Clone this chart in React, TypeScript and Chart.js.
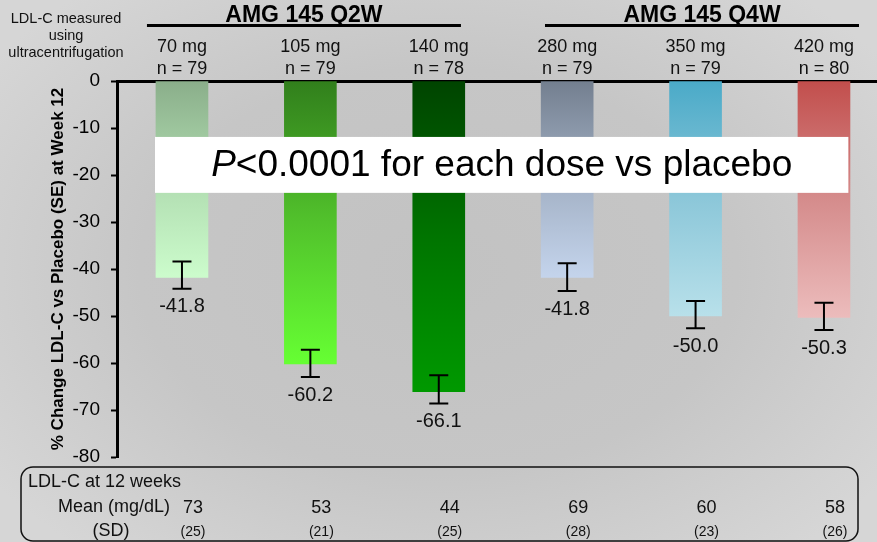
import React, { useEffect, useRef } from 'react';
import { Chart, registerables } from 'chart.js';

Chart.register(...registerables);

// ---- data ----
const doses = ['70 mg', '105 mg', '140 mg', '280 mg', '350 mg', '420 mg'];
const nCounts = ['n = 79', 'n = 79', 'n = 78', 'n = 79', 'n = 79', 'n = 80'];
const changeVsPlacebo = [-41.8, -60.2, -66.1, -41.8, -50.0, -50.3];
const seUpper = [-38.4, -57.2, -62.6, -38.8, -46.8, -47.2];
const seLower = [-44.2, -63.0, -68.6, -44.7, -52.6, -53.0];
const valueLabels = ['-41.8', '-60.2', '-66.1', '-41.8', '-50.0', '-50.3'];
const meanLdl = ['73', '53', '44', '69', '60', '58'];
const sdLdl = ['(25)', '(21)', '(25)', '(28)', '(23)', '(26)'];
const yTicks = [0, -10, -20, -30, -40, -50, -60, -70, -80];
const groupLabels = ['AMG 145 Q2W', 'AMG 145 Q4W'];
const groupCenters = [0.95, 4.05];
const noteLines = ['LDL-C measured', 'using', 'ultracentrifugation'];
const pText = ['P', '<0.0001 for each dose vs placebo'];

// ---- styles ----
const barTop = ['#8aae8a', '#317f1c', '#004400', '#737f8f', '#4aaac8', '#c24e4c'];
const barMid = ['#b0dcb0', '#52c22c', '#007400', '#a2b0c4', '#8cc7d9', '#d58c8c'];
const barBottom = ['#ccfccc', '#66ff33', '#009900', '#c4d4ec', '#b8e0ea', '#ecbcbc'];
const FONT = '"Liberation Sans", Arial, Helvetica, sans-serif';

function txt(
  ctx: CanvasRenderingContext2D,
  s: string,
  x: number,
  y: number,
  font: string,
  align: CanvasTextAlign = 'center',
  baseline: CanvasTextBaseline = 'middle',
  color = '#000'
) {
  ctx.font = font;
  ctx.textAlign = align;
  ctx.textBaseline = baseline;
  ctx.fillStyle = color;
  ctx.fillText(s, x, y);
}

const decorations = {
  id: 'decorations',
  afterDatasetsDraw(chart: any) {
    const { ctx, scales } = chart;
    const x = scales.x;
    const y = scales.y;
    ctx.save();

    // white annotation box
    const bx1 = x.getPixelForValue(-0.21);
    const bx2 = x.getPixelForValue(5.19);
    const by1 = y.getPixelForValue(-11.9);
    const by2 = y.getPixelForValue(-23.8);
    ctx.fillStyle = '#ffffff';
    ctx.fillRect(bx1, by1, bx2 - bx1, by2 - by1);
    const pf = `italic 37px ${FONT}`;
    const rf = `37px ${FONT}`;
    ctx.font = pf;
    const wP = ctx.measureText(pText[0]).width;
    ctx.font = rf;
    const wR = ctx.measureText(pText[1]).width;
    const cx = (bx1 + bx2) / 2;
    const cy = (by1 + by2) / 2 + 1;
    const sx = cx - (wP + wR) / 2;
    txt(ctx, pText[0], sx, cy, pf, 'left');
    txt(ctx, pText[1], sx + wP, cy, rf, 'left');

    // error bars and value labels
    ctx.strokeStyle = '#000';
    ctx.lineWidth = 2;
    changeVsPlacebo.forEach((_, i) => {
      const px = x.getPixelForValue(i);
      const yu = y.getPixelForValue(seUpper[i]);
      const yl = y.getPixelForValue(seLower[i]);
      ctx.beginPath();
      ctx.moveTo(px, yu);
      ctx.lineTo(px, yl);
      ctx.moveTo(px - 9.5, yu);
      ctx.lineTo(px + 9.5, yu);
      ctx.moveTo(px - 9.5, yl);
      ctx.lineTo(px + 9.5, yl);
      ctx.stroke();
      txt(ctx, valueLabels[i], px, yl + 18, `20px ${FONT}`, 'center', 'middle', '#111');
    });
    ctx.restore();
  },
  afterDraw(chart: any) {
    const { ctx, scales } = chart;
    const x = scales.x;
    ctx.save();

    // top-left note
    noteLines.forEach((s, i) => {
      txt(ctx, s, 66, 23 + i * 17, `14.5px ${FONT}`, 'center', 'alphabetic', '#111');
    });

    // group headers with rules
    groupLabels.forEach((s, i) => {
      const c = x.getPixelForValue(groupCenters[i]);
      txt(ctx, s, c, 22, `bold 23px ${FONT}`, 'center', 'alphabetic');
      ctx.fillStyle = '#000';
      ctx.fillRect(c - 157, 24, 314, 3);
    });

    // dose labels
    doses.forEach((d, i) => {
      const px = x.getPixelForValue(i);
      txt(ctx, d, px, 47, `18px ${FONT}`, 'center', 'middle', '#111');
      txt(ctx, nCounts[i], px, 69, `18px ${FONT}`, 'center', 'middle', '#111');
    });

    // bottom table
    const tx1 = 21, tx2 = 858, ty1 = 467, ty2 = 541, r = 12;
    ctx.beginPath();
    ctx.moveTo(tx1 + r, ty1);
    ctx.lineTo(tx2 - r, ty1);
    ctx.arcTo(tx2, ty1, tx2, ty1 + r, r);
    ctx.lineTo(tx2, ty2 - r);
    ctx.arcTo(tx2, ty2, tx2 - r, ty2, r);
    ctx.lineTo(tx1 + r, ty2);
    ctx.arcTo(tx1, ty2, tx1, ty2 - r, r);
    ctx.lineTo(tx1, ty1 + r);
    ctx.arcTo(tx1, ty1, tx1 + r, ty1, r);
    ctx.closePath();
    ctx.strokeStyle = '#111';
    ctx.lineWidth = 1.5;
    ctx.stroke();

    txt(ctx, 'LDL-C at 12 weeks', 28, 482, `18px ${FONT}`, 'left', 'middle', '#111');
    txt(ctx, 'Mean (mg/dL)', 170, 507, `18px ${FONT}`, 'right', 'middle', '#111');
    txt(ctx, '(SD)', 111, 531, `18px ${FONT}`, 'center', 'middle', '#111');
    meanLdl.forEach((m, i) => {
      const px = x.getPixelForValue(i) + 11;
      txt(ctx, m, px, 508, `18px ${FONT}`, 'center', 'middle', '#111');
      txt(ctx, sdLdl[i], px, 532, `14px ${FONT}`, 'center', 'middle', '#111');
    });
    ctx.restore();
  },
};

export default function App() {
  const ref = useRef<HTMLCanvasElement | null>(null);

  useEffect(() => {
    document.body.style.margin = '0';
    const canvas = ref.current;
    if (!canvas) return;
    const chart = new Chart(canvas, {
      type: 'bar',
      data: {
        datasets: [
          {
            data: changeVsPlacebo.map((v, i) => ({ x: i, y: v })),
            barThickness: 52,
            borderWidth: 0,
            backgroundColor: (c: any) => {
              const i = c.dataIndex;
              const ch = c.chart;
              if (!ch.chartArea || i === undefined) return barTop[i ?? 0];
              const ys = ch.scales.y;
              const y0 = ys.getPixelForValue(0);
              const y1 = ys.getPixelForValue(changeVsPlacebo[i]);
              const g = ch.ctx.createLinearGradient(0, y0, 0, y1);
              g.addColorStop(0, barTop[i]);
              g.addColorStop(0.5, barMid[i]);
              g.addColorStop(1, barBottom[i]);
              return g;
            },
          },
        ],
      },
      options: {
        animation: false,
        responsive: false,
        maintainAspectRatio: false,
        layout: { padding: { left: 44, top: 81, right: 0, bottom: 85 } },
        plugins: { legend: { display: false }, tooltip: { enabled: false } },
        scales: {
          x: {
            type: 'linear',
            position: 'top',
            offset: false,
            min: -0.506,
            max: 5.413,
            ticks: { display: false },
            grid: { display: false, offset: false },
            border: { display: true, color: '#000', width: 3 },
            afterFit: (s: any) => {
              s.height = 0;
            },
          },
          y: {
            type: 'linear',
            min: -80,
            max: 0,
            afterBuildTicks: (s: any) => {
              s.ticks = yTicks.map((v) => ({ value: v }));
            },
            afterFit: (s: any) => {
              s.width = 73;
            },
            ticks: {
              font: { family: FONT, size: 19 },
              color: '#000',
              padding: 11,
            },
            grid: {
              drawOnChartArea: false,
              drawTicks: true,
              tickLength: 6,
              tickColor: '#000',
              tickWidth: 2,
            },
            border: { display: true, color: '#000', width: 3 },
            title: {
              display: true,
              text: '% Change LDL-C vs Placebo (SE) at Week 12',
              font: { family: FONT, size: 17, weight: 'bold' },
              color: '#000',
              padding: { top: 4, bottom: 4 },
            },
          },
        },
      },
      plugins: [decorations],
    } as any);
    return () => chart.destroy();
  }, []);

  return (
    <div
      style={{
        position: 'relative',
        width: 877,
        height: 542,
        overflow: 'hidden',
        background:
          'radial-gradient(ellipse 62% 68% at 50% 50%, #c2c2c2 0%, #c6c6c6 55%, #d6d6d6 100%)',
      }}
    >
      <canvas ref={ref} width={877} height={542} style={{ display: 'block', width: 877, height: 542 }} />
    </div>
  );
}
